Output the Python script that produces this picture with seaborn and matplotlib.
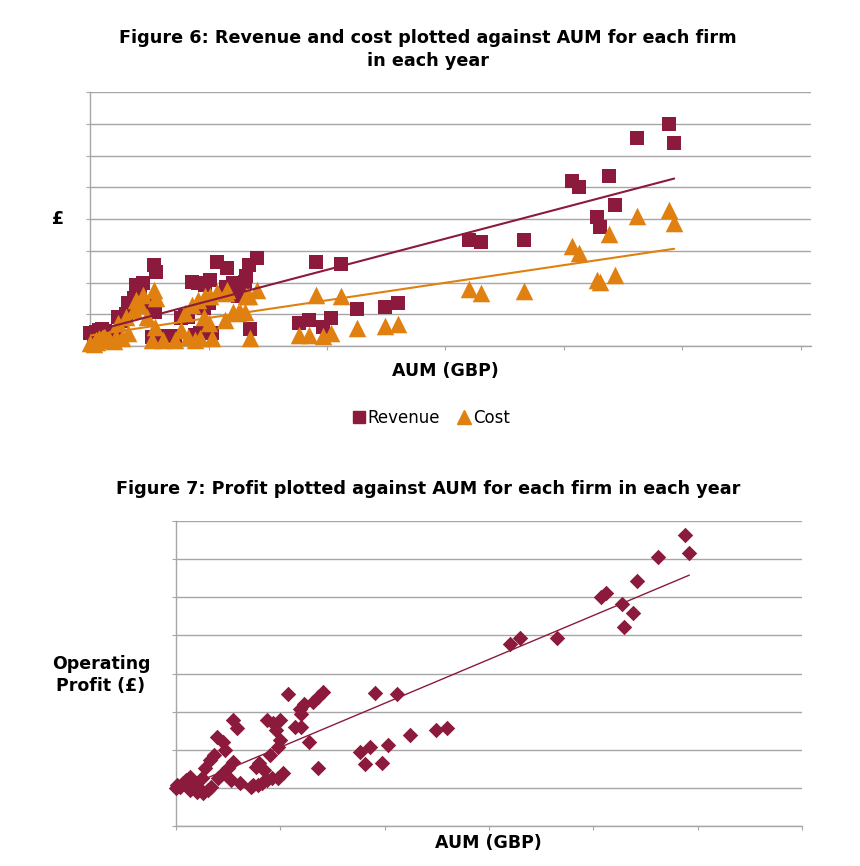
import numpy as np
import pandas as pd
import matplotlib
matplotlib.use("Agg")
import matplotlib.pyplot as plt
import seaborn as sns
from matplotlib.lines import Line2D

# ---- data (axis units, labels hidden in original) ----
aum = [0.00, 0.03, 0.05, 0.06, 0.08, 0.10, 0.12, 0.13, 0.16, 0.20, 0.22,
       0.24, 0.27, 0.30, 0.32, 0.37, 0.39, 0.42, 0.45, 0.48, 0.52, 0.54,
       0.56, 0.55, 0.62, 0.72, 0.77, 0.80, 0.83, 0.86, 0.89, 0.91, 0.93,
       0.97, 0.96, 1.00, 1.01, 1.03, 1.07, 1.14, 1.15, 1.16, 1.21, 1.25,
       1.27, 1.31, 1.32, 1.34, 1.35, 1.41,
       1.76, 1.85, 1.97, 2.03, 1.91, 2.12, 2.25, 2.49, 2.60, 3.20, 3.30,
       3.66, 4.07, 4.13, 4.38, 4.43, 4.28, 4.30, 4.62, 4.89, 4.93]
revenue = [0.40, 0.30, 0.45, 0.25, 0.50, 0.55, 0.35, 0.48, 0.45, 0.35, 0.42,
           0.92, 0.80, 1.00, 1.35, 1.50, 1.92, 1.70, 1.98, 1.30, 0.29, 2.56,
           2.34, 1.08, 0.30, 0.30, 0.87, 0.95, 0.92, 2.03, 0.35, 1.98, 0.40,
           1.92, 1.20, 1.35, 2.08, 0.40, 2.66, 1.60, 1.85, 2.45, 1.98, 1.56,
           1.92, 2.03, 2.20, 2.56, 0.52, 2.77,
           0.74, 0.82, 0.61, 0.87, 2.64, 2.59, 1.17, 1.24, 1.35, 3.34, 3.26,
           3.34, 5.20, 5.00, 5.37, 4.43, 4.06, 3.76, 6.55, 6.99, 6.39]
cost = [0.10, 0.05, 0.20, 0.12, 0.24, 0.25, 0.30, 0.19, 0.22, 0.15, 0.28,
        0.71, 0.24, 0.92, 0.40, 1.14, 1.45, 1.30, 1.61, 0.92, 0.19, 1.77,
        1.50, 0.61, 0.19, 0.19, 0.50, 1.03, 0.29, 1.29, 0.19, 1.45, 0.25,
        1.56, 0.92, 0.71, 1.56, 0.24, 1.71, 0.82, 1.66, 1.77, 1.08, 1.03,
        1.08, 1.08, 1.56, 1.56, 0.24, 1.77,
        0.35, 0.35, 0.32, 0.40, 1.61, 1.58, 0.58, 0.63, 0.69, 1.80, 1.66,
        1.74, 3.16, 2.94, 3.52, 2.24, 2.08, 2.02, 4.11, 4.29, 3.87]

aum_p = [0.00, 0.01, 0.04, 0.07, 0.10, 0.13, 0.13, 0.17, 0.20, 0.21, 0.26,
         0.25, 0.28, 0.31, 0.33, 0.34, 0.36, 0.39, 0.40, 0.45, 0.45, 0.47,
         0.50, 0.53, 0.55, 0.55, 0.58, 0.61, 0.72, 0.74, 0.77, 0.79, 0.80,
         0.82, 0.84, 0.87, 0.87, 0.90, 0.92, 0.93, 0.96, 0.98, 0.98, 1.00,
         1.00, 1.03, 1.07, 1.14, 1.19, 1.20, 1.20, 1.23, 1.27, 1.31, 1.36,
         1.36, 1.41,
         1.76, 1.81, 1.86, 1.91, 1.97, 2.03, 2.12, 2.24, 2.49, 2.60, 3.20,
         3.30, 3.65, 4.07, 4.12, 4.27, 4.29, 4.38, 4.42, 4.62, 4.88, 4.92]
profit = [0.99, 1.07, 1.03, 1.12, 1.20, 1.29, 0.94, 1.12, 0.90, 1.03, 0.86,
          1.25, 1.51, 0.94, 1.73, 1.03, 1.86, 2.34, 1.25, 2.21, 1.38, 1.99,
          1.51, 1.20, 1.68, 2.77, 2.56, 1.12, 1.03, 1.07, 1.55, 1.07, 1.64,
          1.12, 1.47, 2.77, 1.20, 1.86, 1.25, 2.69, 2.51, 1.25, 2.08, 2.77,
          2.25, 1.38, 3.46, 2.60, 3.08, 2.95, 2.60, 3.21, 2.21, 3.25, 3.39,
          1.51, 3.52,
          1.93, 1.62, 2.08, 3.49, 1.66, 2.12, 3.45, 2.40, 2.51, 2.58, 4.78,
          4.94, 4.94, 6.00, 6.12, 5.83, 5.22, 5.58, 6.42, 7.05, 7.62, 7.17]

MAROON = "#8C1A3C"
ORANGE = "#E08010"
GRID = "#A6A6A6"

sns.set_style("white")
plt.rcParams["font.family"] = ["DejaVu Sans"]
plt.rcParams["text.color"] = "black"

fig = plt.figure(figsize=(8.6, 8.66), dpi=100)
ax1 = fig.add_axes([90 / 860, 1 - 346 / 866, 721 / 860, 254 / 866])
ax2 = fig.add_axes([176 / 860, 1 - 826 / 866, 626 / 860, 305 / 866])

df = pd.DataFrame({"aum": aum, "revenue": revenue, "cost": cost})
dfp = pd.DataFrame({"aum": aum_p, "profit": profit})


def style_axis(ax, xmax):
    ax.set_xlim(0, xmax)
    ax.set_ylim(0, 8)
    ax.set_xticks(range(0, 7))
    ax.set_yticks(range(0, 9))
    ax.set_xticklabels([])
    ax.set_yticklabels([])
    ax.tick_params(axis="x", length=3, color=GRID, width=0.8, direction="out", bottom=True)
    ax.tick_params(axis="y", length=3, color=GRID, width=0.8, direction="out", left=True)
    ax.yaxis.grid(True, color=GRID, linewidth=1.0)
    ax.xaxis.grid(False)
    for side in ["top", "right"]:
        ax.spines[side].set_visible(False)
    for side in ["left", "bottom"]:
        ax.spines[side].set_color(GRID)
        ax.spines[side].set_linewidth(1.0)
    ax.set_xlabel("")
    ax.set_ylabel("")
    ax.set_axisbelow(True)


# ---- Figure 6 ----
sns.scatterplot(data=df, x="aum", y="revenue", ax=ax1, marker="s", s=110,
                color=MAROON, linewidth=0, clip_on=False, zorder=3)
sns.scatterplot(data=df, x="aum", y="cost", ax=ax1, marker="^", s=160,
                color=ORANGE, linewidth=0, clip_on=False, zorder=4)
sns.regplot(data=df, x="aum", y="revenue", ax=ax1, scatter=False, ci=None,
            truncate=True, line_kws={"color": MAROON, "linewidth": 1.5, "zorder": 5})
sns.regplot(data=df, x="aum", y="cost", ax=ax1, scatter=False, ci=None,
            truncate=True, line_kws={"color": ORANGE, "linewidth": 1.5, "zorder": 5})
style_axis(ax1, 721 / 118.5)

# ---- Figure 7 ----
sns.scatterplot(data=dfp, x="aum", y="profit", ax=ax2, marker="D", s=62,
                color=MAROON, linewidth=0, clip_on=False, zorder=3)
sns.regplot(data=dfp, x="aum", y="profit", ax=ax2, scatter=False, ci=None,
            truncate=True, line_kws={"color": MAROON, "linewidth": 1.0, "zorder": 4})
style_axis(ax2, 626 / 104.5)

# ---- texts ----
fig.text(0.498, 1 - 49.5 / 866,
         "Figure 6: Revenue and cost plotted against AUM for each firm\nin each year",
         ha="center", va="center", fontsize=12.7, fontweight="bold", linespacing=1.3)
fig.text(58 / 860, 1 - 219 / 866, "£", ha="center", va="center",
         fontsize=12.5, fontweight="bold")
fig.text(445 / 860, 1 - 371 / 866, "AUM (GBP)", ha="center", va="center",
         fontsize=12.5, fontweight="bold")

handles = [
    Line2D([], [], marker="s", linestyle="", color=MAROON, markersize=9),
    Line2D([], [], marker="^", linestyle="", color=ORANGE, markersize=10),
]
fig.legend(handles, ["Revenue", "Cost"], loc="center", ncol=2,
           bbox_to_anchor=(430 / 860, 1 - 418 / 866), frameon=False,
           fontsize=12, handletextpad=0.05, columnspacing=0.9, handlelength=1.0)

fig.text(0.498, 1 - 489 / 866,
         "Figure 7: Profit plotted against AUM for each firm in each year",
         ha="center", va="center", fontsize=12.7, fontweight="bold")
fig.text(101 / 860, 1 - 675 / 866, "Operating\nProfit (£)", ha="center",
         va="center", fontsize=12.5, fontweight="bold", linespacing=1.3)
fig.text(488 / 860, 1 - 843 / 866, "AUM (GBP)", ha="center", va="center",
         fontsize=12.5, fontweight="bold")

fig.savefig("out.png", dpi=100)
